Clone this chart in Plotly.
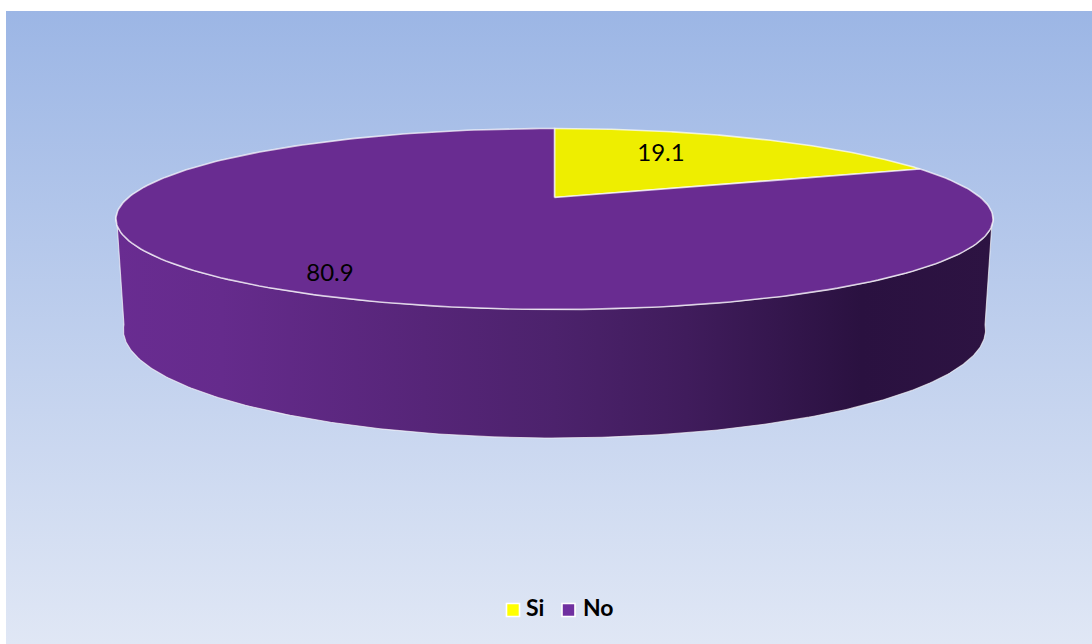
import numpy as np
import plotly.graph_objects as go

# Pie shares
categories = ["Si", "No"]
shares = [19.1, 80.9]

# Canvas and disc geometry, in screen units
WIDTH, HEIGHT = 1092, 644
CX = 554.5
TILT = 0.2376
TOP_PLATE = dict(y0=197.5, sx=426.0, sy=85.4)
BASE_PLATE = dict(y0=304.3, sx=418.7, sy=101.9)

TOP_COLORS = ["#EEEE00", "#692C91"]
KEY_COLORS = ["#FFFF00", "#7030A0"]
FONT = "Lato"


def rim(plate, start_deg, end_deg, n=240):
    """Perspective projection of a circular arc; 0 deg is 12 o'clock, clockwise."""
    t = np.radians(np.linspace(start_deg, end_deg, n))
    px, py = np.sin(t), -np.cos(t)
    w = 1 - TILT * py
    return CX + plate["sx"] * px / w, plate["y0"] + plate["sy"] * py / w


fig = go.Figure()

# Backdrop panel
fig.add_trace(go.Scatter(
    x=[6, WIDTH, WIDTH, 6, 6], y=[11, 11, HEIGHT, HEIGHT, 11],
    mode="lines", line=dict(width=0), fill="toself",
    fillgradient=dict(type="vertical", start=11, stop=HEIGHT,
                      colorscale=[[0, "#9CB6E5"], [1, "#E0E7F5"]]),
    hoverinfo="skip", showlegend=False,
))

# Side wall of the disc, shaded from left to right
WALL_START = 101.0
wx_top, wy_top = rim(TOP_PLATE, 360 - WALL_START, WALL_START)
wx_base, wy_base = rim(BASE_PLATE, WALL_START, 360 - WALL_START)
fig.add_trace(go.Scatter(
    x=np.r_[wx_top, wx_base, wx_top[0]], y=np.r_[wy_top, wy_base, wy_top[0]],
    mode="lines", line=dict(width=1.1, color="rgba(255,255,255,0.65)"), fill="toself",
    fillgradient=dict(type="horizontal", start=117, stop=993, colorscale=[
        [0.00, "#692C91"], [0.12, "#652B8C"], [0.35, "#562578"],
        [0.50, "#4C226C"], [0.65, "#401C5C"], [0.85, "#2A1140"], [1.00, "#2D1342"],
    ]),
    hoverinfo="skip", showlegend=False,
))

# Top face: one wedge per category, swept clockwise from 12 o'clock
total = sum(shares)
start = 0.0
for name, value, color in zip(categories, shares, TOP_COLORS):
    end = start + 360.0 * value / total
    ax, ay = rim(TOP_PLATE, start, end)
    fig.add_trace(go.Scatter(
        x=np.r_[CX, ax, CX], y=np.r_[TOP_PLATE["y0"], ay, TOP_PLATE["y0"]],
        mode="lines", line=dict(width=1.6, color="rgba(255,255,255,0.7)"),
        fill="toself", fillcolor=color, name=name,
        hoverinfo="name", showlegend=False,
    ))
    start = end

# Value labels
label_x = [661, 330]
label_y = [155, 275]
fig.add_trace(go.Scatter(
    x=label_x, y=label_y, mode="text", text=[str(v) for v in shares],
    textposition="middle center", textfont=dict(family=FONT, size=24, color="#000000"),
    hoverinfo="skip", showlegend=False,
))

# Category key along the bottom
key_x = [513, 568.5]
key_y = [610, 610]
key_text_x = [526, 583]
fig.add_trace(go.Scatter(
    x=key_x, y=key_y, mode="markers",
    marker=dict(symbol="square", size=13, color=KEY_COLORS, line=dict(width=1.6, color="#FFFFFF")),
    hoverinfo="skip", showlegend=False,
))
fig.add_trace(go.Scatter(
    x=key_text_x, y=key_y, mode="text", text=[f"<b>{c}</b>" for c in categories],
    textposition="middle right", textfont=dict(family=FONT, size=23, color="#000000"),
    hoverinfo="skip", showlegend=False,
))

fig.update_layout(
    width=WIDTH, height=HEIGHT, margin=dict(l=0, r=0, t=0, b=0),
    paper_bgcolor="#FFFFFF", plot_bgcolor="rgba(0,0,0,0)", showlegend=False,
    xaxis=dict(range=[0, WIDTH], visible=False, fixedrange=True),
    yaxis=dict(range=[HEIGHT, 0], visible=False, fixedrange=True),
)
fig.write_html("out.html", config={"displayModeBar": False})
